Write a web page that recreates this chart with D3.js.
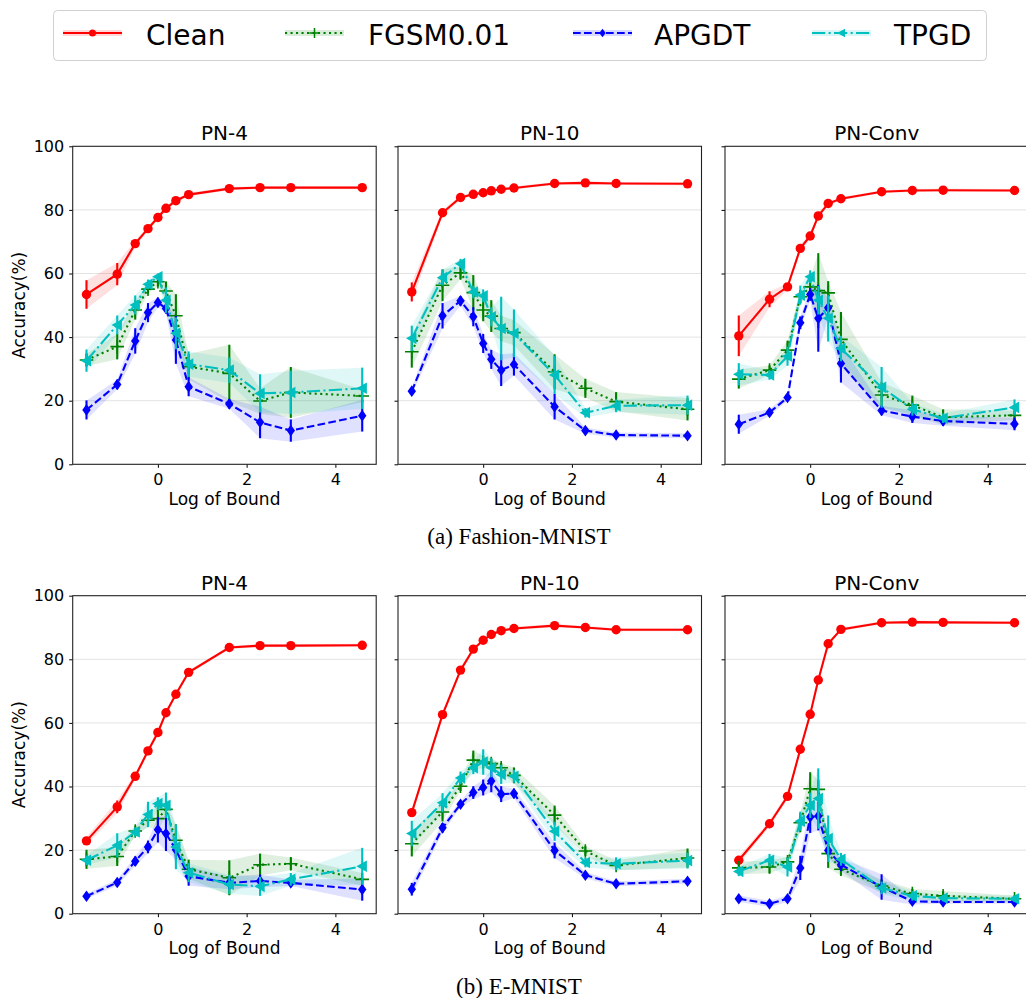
<!DOCTYPE html>
<html>
<head>
<meta charset="utf-8">
<script src="https://cdn.jsdelivr.net/npm/d3@7/dist/d3.min.js"></script>
<style>
  body { margin: 0; background: #fff; }
  svg { display: block; font-family: "DejaVu Sans", sans-serif; }
</style>
</head>
<body>
<div id="chart"></div>
<script>
// Accuracy vs log of attack bound — 2 datasets x 3 networks, 4 series each.
const bounds = [0.2, 0.4, 0.6, 0.8, 1, 1.2, 1.5, 2, 5, 10, 20, 100];
const seriesNames = ["Clean", "FGSM0.01", "APGDT", "TPGD"];
const panelTitles = ["PN-4", "PN-10", "PN-Conv"];
const captions = ["(a) Fashion-MNIST", "(b) E-MNIST"];
const xTicks = [0, 2, 4];
const yTicks = [0, 20, 40, 60, 80, 100];

// Fashion-MNIST
const fmPn4Clean = [53.4, 59.8, 69.4, 74.1, 77.6, 80.5, 82.9, 84.8, 86.7, 87.0, 87.0, 87.0];
const fmPn4CleanErr = [4.5, 3.5, 1, 0.8, 0.8, 0.8, 0.6, 0.6, 0.5, 0.5, 0.5, 0.5];
const fmPn4Fgsm = [32.8, 37.0, 48.5, 55.1, 57.4, 54.5, 46.7, 30.7, 28.6, 19.9, 22.6, 21.5];
const fmPn4FgsmErr = [2, 4, 3, 1.5, 1.5, 3, 6.8, 4, 9, 4, 8, 2];
const fmPn4Apgdt = [17.1, 25.1, 38.8, 47.7, 50.9, 49.0, 39.1, 24.4, 19.0, 13.2, 10.6, 15.3];
const fmPn4ApgdtErr = [3, 1.5, 4, 3, 1.5, 1.5, 7.5, 3, 1.5, 5, 3.5, 5];
const fmPn4Tpgd = [32.6, 43.8, 50.1, 56.6, 59.0, 51.6, 41.2, 31.5, 29.6, 22.3, 22.6, 23.9];
const fmPn4TpgdErr = [3.5, 3, 3, 1.5, 1, 4, 5, 4, 4, 6, 6.8, 6.5];

const fmPn10Clean = [54.2, 79.1, 83.9, 84.9, 85.4, 86.0, 86.5, 86.9, 88.3, 88.5, 88.3, 88.2];
const fmPn10CleanErr = [3, 1, 0.6, 0.5, 0.5, 0.5, 0.5, 0.5, 0.5, 0.5, 0.5, 0.5];
const fmPn10Fgsm = [35.4, 56.3, 60.2, 54.0, 48.5, 46.6, 42.7, 41.4, 29.1, 23.9, 19.7, 17.3];
const fmPn10FgsmErr = [5, 5, 2, 5.5, 3.5, 5, 4, 4, 5.5, 3, 3, 3.5];
const fmPn10Apgdt = [23.0, 46.7, 51.4, 46.4, 38.0, 33.0, 29.6, 31.4, 18.1, 10.6, 9.2, 9.0];
const fmPn10ApgdtErr = [1, 4, 1.5, 3, 3, 3, 5, 3.5, 4, 1, 0.8, 0.8];
const fmPn10Tpgd = [39.6, 58.7, 63.1, 54.2, 53.0, 46.4, 42.7, 41.2, 28.1, 16.2, 18.4, 18.6];
const fmPn10TpgdErr = [4, 2.5, 1.5, 2, 2, 3, 10, 7.5, 6, 1.5, 2, 3];

const fmConvClean = [40.4, 51.9, 55.8, 67.9, 71.8, 78.1, 82.0, 83.5, 85.7, 86.1, 86.2, 86.1];
const fmConvCleanErr = [6.4, 2.5, 1, 1, 1, 1, 0.6, 0.5, 0.5, 0.5, 0.5, 0.5];
const fmConvFgsm = [26.8, 29.6, 35.9, 52.7, 55.8, 54.6, 53.9, 39.3, 21.8, 18.6, 14.8, 15.4];
const fmConvFgsmErr = [3, 1.5, 3, 2, 3, 11.8, 3.7, 8.6, 4, 3, 2.5, 1.5];
const fmConvApgdt = [12.6, 16.3, 21.0, 44.5, 53.4, 45.9, 49.2, 31.7, 16.9, 15.0, 13.6, 12.7];
const fmConvApgdtErr = [3, 1, 1, 2, 2, 10.5, 3, 6, 1.5, 2, 1.5, 2];
const fmConvTpgd = [28.3, 28.1, 34.0, 53.2, 59.0, 51.6, 45.9, 36.4, 24.2, 17.3, 14.5, 17.9];
const fmConvTpgdErr = [3.5, 1.5, 3, 3, 2, 4.5, 7.3, 4, 6.4, 2, 1.5, 2.5];

// E-MNIST
const emPn4Clean = [22.9, 33.6, 43.2, 51.2, 57.0, 63.2, 69.0, 75.9, 83.7, 84.3, 84.3, 84.4];
const emPn4CleanErr = [1.2, 2, 1, 0.8, 0.8, 0.8, 0.6, 0.6, 0.5, 0.5, 0.5, 0.5];
const emPn4Fgsm = [17.1, 18.0, 26.0, 29.4, 29.9, 32.8, 23.1, 14.0, 11.3, 15.4, 15.7, 10.8];
const emPn4FgsmErr = [3, 3, 1.5, 2, 4, 2, 5, 3, 5.5, 3.5, 2, 2];
const emPn4Apgdt = [5.5, 9.8, 16.5, 21.0, 26.4, 25.2, 20.1, 11.8, 9.7, 10.3, 9.7, 7.6];
const emPn4ApgdtErr = [0.8, 1, 1.5, 2, 4, 5.5, 3, 3, 2, 2, 1, 3.5];
const emPn4Tpgd = [16.8, 21.5, 25.7, 31.2, 34.6, 34.1, 21.0, 12.9, 9.2, 8.6, 10.8, 14.9];
const emPn4TpgdErr = [1.5, 3.8, 1.5, 4, 2, 4, 7, 3, 3, 3, 2, 5.8];

const emPn10Clean = [31.8, 62.6, 76.6, 83.2, 86.0, 87.8, 89.0, 89.7, 90.6, 90.0, 89.3, 89.3];
const emPn10CleanErr = [1.2, 1, 0.8, 0.6, 0.5, 0.5, 0.5, 0.5, 0.5, 0.5, 0.5, 0.5];
const emPn10Fgsm = [22.0, 32.0, 40.1, 48.3, 47.7, 47.2, 45.9, 43.5, 31.0, 19.7, 15.2, 17.5];
const emPn10FgsmErr = [4, 3, 1.5, 3, 2, 1.5, 1.5, 2.5, 3, 1.5, 1.5, 3];
const emPn10Apgdt = [7.7, 27.0, 34.4, 38.1, 39.7, 41.7, 37.6, 37.8, 19.9, 12.1, 9.4, 10.2];
const emPn10ApgdtErr = [2, 1.5, 1, 2, 2.5, 3.5, 2.5, 1.5, 2.5, 1, 0.8, 0.8];
const emPn10Tpgd = [25.2, 34.9, 42.7, 45.9, 47.7, 45.9, 43.8, 43.2, 25.9, 16.1, 15.7, 16.7];
const emPn10TpgdErr = [4, 3, 2, 2, 4, 3, 3, 2, 3, 1.5, 2, 2.5];

const emConvClean = [16.8, 28.3, 36.9, 51.7, 62.7, 73.5, 84.9, 89.4, 91.5, 91.7, 91.6, 91.5];
const emConvCleanErr = [1.2, 1, 1, 0.8, 0.8, 0.6, 0.5, 0.5, 0.5, 0.5, 0.5, 0.5];
const emConvFgsm = [14.4, 14.7, 16.3, 28.6, 39.3, 39.1, 18.9, 14.0, 8.7, 6.3, 5.6, 4.7];
const emConvFgsmErr = [2, 2, 1.5, 3, 5.2, 3, 4.5, 2, 2, 1.5, 1.5, 1];
const emConvApgdt = [4.7, 3.1, 4.7, 14.4, 30.4, 30.7, 19.9, 15.4, 8.4, 3.9, 3.7, 3.7];
const emConvApgdtErr = [1, 1, 1, 3.8, 5, 4.5, 2, 2, 4, 1, 0.6, 0.6];
const emConvTpgd = [13.3, 16.8, 14.7, 29.1, 34.1, 36.2, 23.6, 17.1, 8.1, 5.6, 4.9, 4.7];
const emConvTpgdErr = [1.5, 2, 3, 3, 4, 9.5, 7.3, 2, 2, 1.5, 1, 1];

const panelData = [
  [ // Fashion-MNIST
    { vals: [fmPn4Clean, fmPn4Fgsm, fmPn4Apgdt, fmPn4Tpgd], errs: [fmPn4CleanErr, fmPn4FgsmErr, fmPn4ApgdtErr, fmPn4TpgdErr] },
    { vals: [fmPn10Clean, fmPn10Fgsm, fmPn10Apgdt, fmPn10Tpgd], errs: [fmPn10CleanErr, fmPn10FgsmErr, fmPn10ApgdtErr, fmPn10TpgdErr] },
    { vals: [fmConvClean, fmConvFgsm, fmConvApgdt, fmConvTpgd], errs: [fmConvCleanErr, fmConvFgsmErr, fmConvApgdtErr, fmConvTpgdErr] }
  ],
  [ // E-MNIST
    { vals: [emPn4Clean, emPn4Fgsm, emPn4Apgdt, emPn4Tpgd], errs: [emPn4CleanErr, emPn4FgsmErr, emPn4ApgdtErr, emPn4TpgdErr] },
    { vals: [emPn10Clean, emPn10Fgsm, emPn10Apgdt, emPn10Tpgd], errs: [emPn10CleanErr, emPn10FgsmErr, emPn10ApgdtErr, emPn10TpgdErr] },
    { vals: [emConvClean, emConvFgsm, emConvApgdt, emConvTpgd], errs: [emConvCleanErr, emConvFgsmErr, emConvApgdtErr, emConvTpgdErr] }
  ]
];

const W = 1026, H = 998;
const COLORS = ["#ff0000", "#008000", "#0000ff", "#00bfbf"];
const DASH = [null, "2.1,3.4", "7.7,3.3", "13.3,3.3,2.1,3.3"];
const LW = 2.1;
const colX = [72.7, 398, 725];
const rowY = [146.3, 595.7];
const PW = 303.5, PH = 318;

const x = d3.scaleLinear().domain([-1.92, 4.92]).range([0, PW]);
const y = d3.scaleLinear().domain([0, 100]).range([PH, 0]);
const logB = bounds.map(b => Math.log(b));

// marker path generators, centred on 0,0
function markerPath(k, s) {
  s = s || 1;
  if (k === 0) { const r = 4.7 * s; return `M${-r},0a${r},${r} 0 1,0 ${2*r},0a${r},${r} 0 1,0 ${-2*r},0Z`; }
  if (k === 1) { const r = 6.8 * s; return `M${-r},0H${r}M0,${-r}V${r}`; }
  if (k === 2) { const a = 4.2 * s, b = 5.8 * s; return `M0,${-b}L${a},0L0,${b}L${-a},0Z`; }
  const r = 5.8 * s; return `M${-r},0L${r*0.8},${-r}L${r*0.8},${r}Z`;
}

const svg = d3.select("#chart").append("svg").attr("width", W).attr("height", H);

// legend
const legend = svg.append("g");
legend.append("rect").attr("x", 53.5).attr("y", 10.5).attr("width", 933).attr("height", 50)
  .attr("rx", 4).attr("fill", "#fff").attr("stroke", "#d0d0d0");
const legX = [63, 285, 573, 812];
const legTextX = [146, 368, 654, 894];
seriesNames.forEach((name, k) => {
  const g = legend.append("g");
  g.append("rect").attr("x", legX[k]).attr("y", 30).attr("width", 59).attr("height", 6)
    .attr("fill", COLORS[k]).attr("opacity", 0.15);
  g.append("line").attr("x1", legX[k]).attr("x2", legX[k] + 59).attr("y1", 33).attr("y2", 33)
    .attr("stroke", COLORS[k]).attr("stroke-width", LW).attr("stroke-dasharray", DASH[k]);
  g.append("path").attr("transform", `translate(${legX[k] + 29.5},33)`)
    .attr("d", markerPath(k, 0.75))
    .attr("fill", k === 1 ? "none" : COLORS[k]).attr("stroke", COLORS[k]).attr("stroke-width", k === 1 ? 1.5 : 0);
  g.append("text").attr("x", legTextX[k]).attr("y", 45).attr("font-size", 28).text(name);
});

const area = d3.area().x((d, i) => x(logB[i])).y0(d => y(d[0] - d[1])).y1(d => y(d[0] + d[1]));
const line = d3.line().x((d, i) => x(logB[i])).y(d => y(d));

panelData.forEach((row, r) => {
  row.forEach((p, c) => {
    const g = svg.append("g").attr("transform", `translate(${colX[c]},${rowY[r]})`);

    // grid
    g.append("g").selectAll("line").data(yTicks.slice(1, -1)).join("line")
      .attr("x1", 0).attr("x2", PW).attr("y1", d => y(d)).attr("y2", d => y(d))
      .attr("stroke", "#e3e3e3").attr("stroke-width", 1);

    // shaded bands
    p.vals.forEach((v, k) => {
      const pts = v.map((d, i) => [d, p.errs[k][i]]);
      g.append("path").datum(pts).attr("d", area)
        .attr("fill", COLORS[k]).attr("opacity", 0.12);
    });

    p.vals.forEach((v, k) => {
      g.append("path").datum(v).attr("d", line).attr("fill", "none")
        .attr("stroke", COLORS[k]).attr("stroke-width", LW)
        .attr("stroke-dasharray", DASH[k]);
      g.append("g").selectAll("line").data(v).join("line")
        .attr("x1", (d, i) => x(logB[i])).attr("x2", (d, i) => x(logB[i]))
        .attr("y1", (d, i) => y(d - p.errs[k][i])).attr("y2", (d, i) => y(d + p.errs[k][i]))
        .attr("stroke", COLORS[k]).attr("stroke-width", LW);
      g.append("g").selectAll("path").data(v).join("path")
        .attr("transform", (d, i) => `translate(${x(logB[i])},${y(d)})`)
        .attr("d", markerPath(k))
        .attr("fill", k === 1 ? "none" : COLORS[k])
        .attr("stroke", COLORS[k]).attr("stroke-width", k === 1 ? 1.6 : 0);
    });

    // axes
    const xa = g.append("g").attr("transform", `translate(0,${PH})`)
      .call(d3.axisBottom(x).tickValues(xTicks).tickSize(3.5).tickSizeOuter(0).tickPadding(6).tickFormat(d3.format("d")));
    const ya = g.append("g")
      .call(d3.axisLeft(y).tickValues(yTicks).tickSize(3.5).tickSizeOuter(0).tickPadding(5)
        .tickFormat(c === 0 ? d3.format("d") : () => ""));
    [xa, ya].forEach(a => {
      a.select(".domain").remove();
      a.selectAll("text").attr("font-size", 16).attr("font-family", "DejaVu Sans").attr("fill", "#000");
      a.selectAll("line").attr("stroke", "#000").attr("stroke-width", 1);
    });

    g.append("rect").attr("x", 0).attr("y", 0).attr("width", PW).attr("height", PH)
      .attr("fill", "none").attr("stroke", "#222").attr("stroke-width", 1.1);

    g.append("text").attr("x", PW / 2).attr("y", -6).attr("text-anchor", "middle")
      .attr("font-size", 20).text(panelTitles[c]);
    g.append("text").attr("x", PW / 2).attr("y", PH + 40.5).attr("text-anchor", "middle")
      .attr("font-size", 17).text("Log of Bound");
  });

  svg.append("text").attr("transform", `translate(25,${rowY[r] + PH / 2}) rotate(-90)`)
    .attr("text-anchor", "middle").attr("font-size", 17).text("Accuracy(%)");
  svg.append("text").attr("x", 519).attr("y", rowY[r] + PH + 80)
    .attr("text-anchor", "middle").attr("font-size", 23)
    .attr("font-family", "'Liberation Serif', 'Times New Roman', serif").text(captions[r]);
});
</script>
</body>
</html>
